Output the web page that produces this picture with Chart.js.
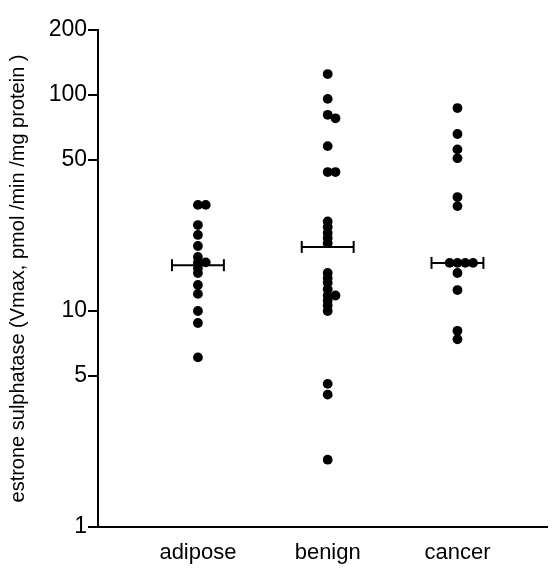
<!DOCTYPE html>
<html>
<head>
<meta charset="utf-8">
<script src="https://cdn.jsdelivr.net/npm/chart.js@4"></script>
<style>
    html, body { margin: 0; padding: 0; background: #fff; }
    #contenedor { width: 555px; height: 573px; }
</style>
</head>
<body>
<div id="contenedor"><canvas id="myChart"></canvas></div>
<script>
// valores (Vmax, pmol/min/mg proteina)
const categorias = ["adipose", "benign", "cancer"]
const adiposo = [31, 31, 25, 22.5, 20, 17.8, 16.8, 16.8, 15.8, 15, 13.2, 12, 10, 8.8, 6.1]
const benigno = [125, 96, 81, 78, 58, 44, 44, 26, 24.5, 23, 21.8, 20.6, 15, 14.2, 13.5, 12.6, 11.8, 11.8, 11.2, 10.6, 10, 4.6, 4.1, 2.05]
const cancer = [87, 66, 56, 51, 33.7, 30.6, 16.7, 16.7, 16.7, 16.7, 15, 12.5, 8.1, 7.4]
const medianas = [16.3, 19.8, 16.7]
const ticksY = [1, 5, 10, 50, 100, 200]

// reparte los puntos que se tapan: centro, derecha, izquierda, ...
function repartir(valores, centro) {
    const puestos = []
    return valores.map(v => {
        let k = 0
        while (true) {
            const slot = k === 0 ? 0 : (k % 2 ? (k + 1) / 2 : -k / 2)
            const choca = puestos.some(p => p.slot === slot && Math.abs(Math.log10(p.v) - Math.log10(v)) < 0.02)
            if (!choca) {
                puestos.push({ slot, v })
                return { x: centro + slot * 0.06, y: v }
            }
            k++
        }
    })
}

const grupos = [adiposo, benigno, cancer]
const puntos = []
grupos.forEach((g, i) => puntos.push(...repartir(g, i + 1)))

const datasets = [{
    type: "scatter",
    data: puntos,
    backgroundColor: "black",
    borderWidth: 0,
    pointRadius: 4.9
}]

medianas.forEach((m, i) => {
    datasets.push({
        type: "line",
        data: [{ x: i + 1 - 0.2, y: m }, { x: i + 1 + 0.2, y: m }],
        borderColor: "black",
        borderWidth: 2,
        pointStyle: "line",
        pointRotation: 90,
        pointRadius: 6,
        pointBorderWidth: 2,
        pointBorderColor: "black"
    })
})

const fuente = "'Liberation Sans', Arial, sans-serif"

new Chart(document.getElementById("myChart"), {
    data: { datasets: datasets },
    options: {
        responsive: true,
        maintainAspectRatio: false,
        animation: false,
        layout: { padding: { top: 30, right: 0, bottom: 0, left: 0 } },
        plugins: {
            legend: { display: false },
            tooltip: { enabled: false }
        },
        scales: {
            x: {
                type: "linear",
                min: 0.23,
                max: 3.69,
                afterBuildTicks: s => { s.ticks = [1, 2, 3].map(v => ({ value: v })) },
                afterFit: s => { s.height = 46 },
                ticks: {
                    callback: v => categorias[v - 1],
                    color: "black",
                    font: { family: fuente, size: 22 },
                    padding: 5
                },
                grid: { display: false },
                border: { color: "black", width: 2 }
            },
            y: {
                type: "logarithmic",
                min: 1,
                max: 200,
                afterBuildTicks: s => { s.ticks = ticksY.map(v => ({ value: v })) },
                afterFit: s => { s.width = 98 },
                ticks: {
                    callback: v => String(v),
                    autoSkip: false,
                    color: "black",
                    font: { family: fuente, size: 23 },
                    padding: 1
                },
                grid: { drawOnChartArea: false, color: "black", lineWidth: 2, tickLength: 10 },
                border: { color: "black", width: 2 },
                title: {
                    display: true,
                    text: "estrone sulphatase (Vmax, pmol /min /mg protein )",
                    color: "black",
                    font: { family: fuente, size: 20 },
                    padding: { top: 6, bottom: 0 }
                }
            }
        }
    }
})
</script>
</body>
</html>
